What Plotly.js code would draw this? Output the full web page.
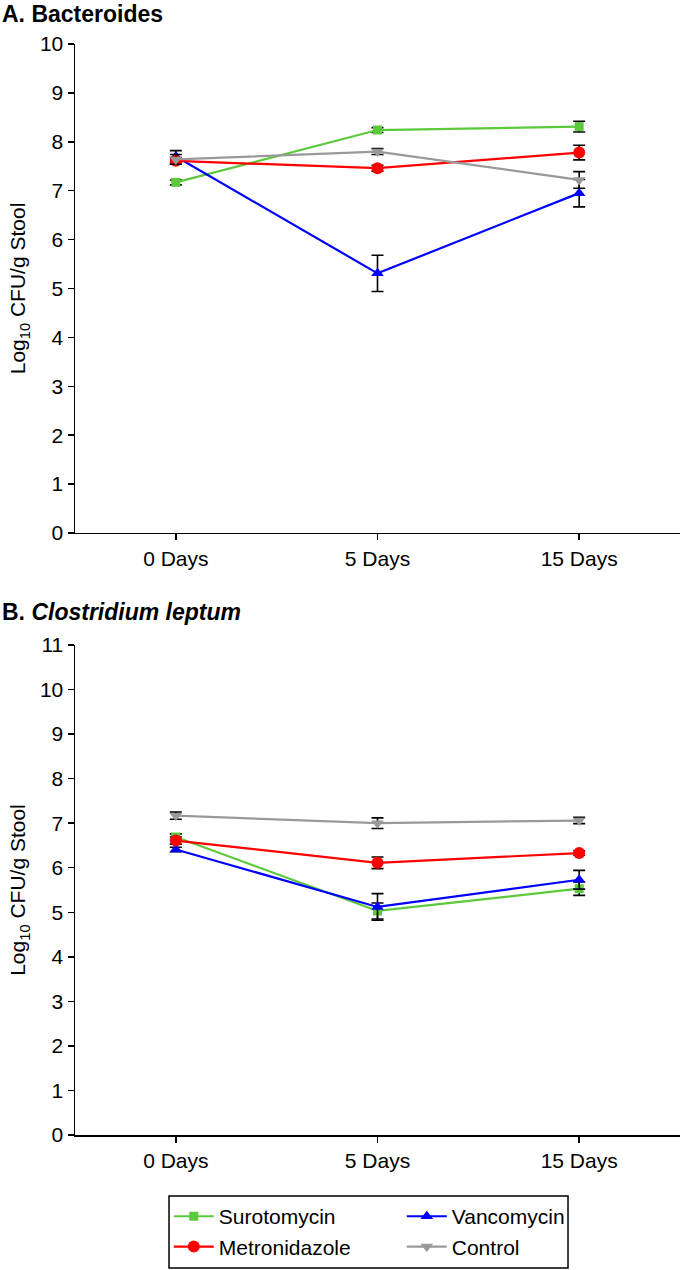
<!DOCTYPE html>
<html>
<head>
<meta charset="utf-8">
<script src="https://cdn.plot.ly/plotly-3.0.1.min.js"></script>
<style>html,body{margin:0;padding:0;background:#fff;}#chart{width:680px;height:1270px;}</style>
</head>
<body>
<div id="chart"></div>
<script>
// Categories (time points)
const timepoints = ["0 Days", "5 Days", "15 Days"];
const xpos = [0, 1, 2];

// Panel A: Bacteroides (log10 CFU/g stool), mean and error
const bactSurotomycin = [7.17, 8.24, 8.31];
const bactSurotomycinErr = [0.05, 0.05, 0.11];
const bactMetronidazole = [7.61, 7.46, 7.78];
const bactMetronidazoleErr = [0.07, 0.06, 0.15];
const bactVancomycin = [7.70, 5.31, 6.95];
const bactVancomycinErr = [0.12, 0.37, 0.28];
const bactControl = [7.64, 7.80, 7.22];
const bactControlErr = [0.10, 0.06, 0.17];

// Panel B: Clostridium leptum
const clepSurotomycin = [6.69, 5.03, 5.53];
const clepSurotomycinErr = [0.07, 0.18, 0.15];
const clepMetronidazole = [6.61, 6.11, 6.33];
const clepMetronidazoleErr = [0.08, 0.13, 0.05];
const clepVancomycin = [6.41, 5.12, 5.73];
const clepVancomycinErr = [0.05, 0.30, 0.21];
const clepControl = [7.17, 7.00, 7.06];
const clepControlErr = [0.08, 0.12, 0.07];

const seriesNames = ["Surotomycin", "Vancomycin", "Metronidazole", "Control"];
const colors = {Surotomycin: "#5cc83c", Vancomycin: "#0000ff", Metronidazole: "#ff0000", Control: "#999999"};
const symbols = {Surotomycin: "square", Vancomycin: "triangle-up", Metronidazole: "circle", Control: "triangle-down"};
const msizes = {Surotomycin: 9, Vancomycin: 11, Metronidazole: 12, Control: 11};

const dataA = {Surotomycin: [bactSurotomycin, bactSurotomycinErr], Vancomycin: [bactVancomycin, bactVancomycinErr], Metronidazole: [bactMetronidazole, bactMetronidazoleErr], Control: [bactControl, bactControlErr]};
const dataB = {Surotomycin: [clepSurotomycin, clepSurotomycinErr], Vancomycin: [clepVancomycin, clepVancomycinErr], Metronidazole: [clepMetronidazole, clepMetronidazoleErr], Control: [clepControl, clepControlErr]};

function mk(name, d, xa, ya, show) {
  return {
    x: xpos, y: d[0], xaxis: xa, yaxis: ya, name: name, showlegend: show,
    type: "scatter", mode: "lines+markers",
    line: {color: colors[name], width: 2.2},
    marker: {color: colors[name], symbol: symbols[name], size: msizes[name]},
    error_y: {type: "data", array: d[1], visible: true, color: "#000", thickness: 1.6, width: 6}
  };
}

const traces = [];
seriesNames.forEach(n => traces.push(mk(n, dataA[n], "x", "y", true)));
seriesNames.forEach(n => traces.push(mk(n, dataB[n], "x2", "y2", false)));

const FAM = "Liberation Sans, Arial, sans-serif";
const font = {family: FAM, size: 21, color: "#000"};
const xcommon = {
  range: [-0.5, 2.5], tickvals: xpos, ticktext: timepoints, showline: true, linecolor: "#000", linewidth: 1.5,
  ticks: "outside", ticklen: 6, tickwidth: 1.5, tickcolor: "#000", showgrid: false, zeroline: false, tickfont: font
};
const ycommon = {
  showline: true, linecolor: "#000", linewidth: 1.5, ticks: "outside", ticklen: 6, tickwidth: 1.5, tickcolor: "#000",
  showgrid: false, zeroline: false, tickfont: font,
  title: {text: "Log<sub>10</sub> CFU/g Stool", font: font, standoff: 8}
};

const layout = {
  width: 680, height: 1270,
  margin: {l: 75, r: 0, t: 44, b: 135, autoexpand: false},
  paper_bgcolor: "#fff", plot_bgcolor: "#fff",
  font: font,
  xaxis: Object.assign({}, xcommon, {anchor: "y", domain: [0, 1]}),
  yaxis: Object.assign({}, ycommon, {anchor: "x", domain: [0.5518, 1], range: [0, 10], tickvals: [0,1,2,3,4,5,6,7,8,9,10]}),
  xaxis2: Object.assign({}, xcommon, {anchor: "y2", domain: [0, 1]}),
  yaxis2: Object.assign({}, ycommon, {anchor: "x2", domain: [0, 0.4491], range: [0, 11], tickvals: [0,1,2,3,4,5,6,7,8,9,10,11]}),
  showlegend: true,
  legend: {
    orientation: "h", x: 0.155, y: -0.056, xanchor: "left", yanchor: "top", xref: "paper", yref: "paper",
    entrywidth: 178, entrywidthmode: "pixels", itemwidth: 40,
    borderwidth: 0, bgcolor: "rgba(0,0,0,0)", font: font, traceorder: "normal"
  },
  shapes: [
    {type: "rect", xref: "paper", yref: "paper", x0: 0.1554, x1: 0.8149, y0: -0.0559, y1: -0.1219,
     line: {color: "#000", width: 1.5}, fillcolor: "rgba(0,0,0,0)", layer: "above"}
  ],
  annotations: [
    {text: "<b>A. Bacteroides</b>", xref: "paper", yref: "paper", x: -0.124, y: 1.0275, xanchor: "left", yanchor: "middle", showarrow: false, font: {family: FAM, size: 23, color: "#000"}},
    {text: "<b>B. <i>Clostridium leptum</i></b>", xref: "paper", yref: "paper", x: -0.124, y: 0.4794, xanchor: "left", yanchor: "middle", showarrow: false, font: {family: FAM, size: 23, color: "#000"}}
  ]
};

Plotly.newPlot("chart", traces, layout, {displayModeBar: false, staticPlot: true});
</script>
</body>
</html>
